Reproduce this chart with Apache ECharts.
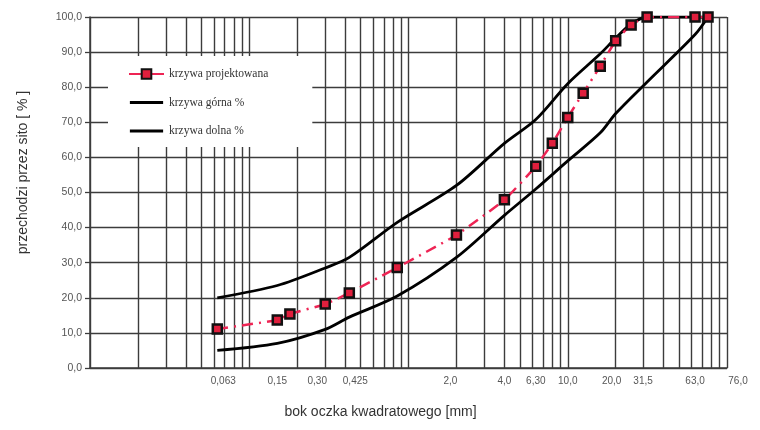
<!DOCTYPE html>
<html>
<head>
<meta charset="utf-8">
<script src="https://cdn.jsdelivr.net/npm/echarts@6/dist/echarts.min.js"></script>
<style>
  html, body { margin: 0; padding: 0; background: #fff; }
  #chart { width: 760px; height: 430px; }
</style>
</head>
<body>
<div id="chart"></div>
<script>
// Sieve sizes [mm] and percentage passing for each grading curve
var sieveDesign = [0.063, 0.15, 0.18, 0.3, 0.425, 0.85, 2, 4, 6.3, 8, 10, 12.5, 16, 20, 25, 31.5, 63, 76];
var passDesign  = [11.1, 13.7, 15.4, 18.2, 21.4, 28.6, 37.9, 47.9, 57.5, 64.0, 71.4, 78.3, 86.0, 93.2, 97.7, 100, 100, 100];

var sieveUpper = [0.063, 0.15, 0.3, 0.425, 0.85, 2, 4, 6.3, 10, 16, 20, 25, 31.5, 63, 76];
var passUpper  = [20, 23.5, 28.5, 31.5, 41.5, 52, 64, 70.8, 81, 89.5, 94, 98, 100, 100, 100];

var sieveLower = [0.063, 0.15, 0.3, 0.425, 0.85, 2, 4, 6.3, 10, 16, 20, 31.5, 63, 76];
var passLower  = [5, 7, 11, 14.5, 20.5, 31.5, 43.5, 51, 59, 67, 72.5, 81.5, 95, 100];

// Tick labels printed under the x axis
var xTickValues = [0.063, 0.15, 0.3, 0.425, 2, 4, 6.3, 10, 20, 31.5, 63, 76];
var xTickLabels = ['0,063', '0,15', '0,30', '0,425', '2,0', '4,0', '6,30', '10,0', '20,0', '31,5', '63,0', '76,0'];

// Logarithmic grid: 1..9 in every decade from 0.01 to 100 mm
var decades = [0.01, 0.1, 1, 10];
var gridMultipliers = [1, 2, 3, 4, 5, 6, 7, 8, 9];

var seriesNames = ['krzywa projektowana', 'krzywa górna %', 'krzywa dolna %'];

function pairs(xs, ys) {
  return xs.map(function (x, i) { return [x, ys[i]]; });
}

var gridValues = [];
decades.forEach(function (d) {
  gridMultipliers.forEach(function (m) { gridValues.push(+(d * m).toPrecision(6)); });
});
gridValues.push(100);

// Horizontal nudges (px) for a few crowded tick labels
var labelNudge = { '0,063': 6, '0,30': -8, '0,425': 6, '2,0': -6, '20,0': -4, '31,5': -4, '76,0': 30 };
var labelRich = {};
var labelStyle = { fontFamily: 'Liberation Sans', fontSize: 10, color: '#555' };

function tickLabel(v) {
  var best = 0, bestDist = Infinity;
  xTickValues.forEach(function (t, i) {
    var dist = Math.abs(Math.log(t) - Math.log(v));
    if (dist < bestDist) { bestDist = dist; best = i; }
  });
  var txt = xTickLabels[best];
  var n = labelNudge[txt];
  if (!n) return txt;
  return '{n' + best + '|' + txt + '}';
}
xTickLabels.forEach(function (txt, i) {
  var n = labelNudge[txt];
  if (!n) return;
  labelRich['n' + i] = Object.assign({}, labelStyle, {
    padding: n > 0 ? [0, 0, 0, 2 * n] : [0, -2 * n, 0, 0]
  });
});

var lineIcon = 'path://M0,0M0,5H36V8H0ZM36,13';

var chart = echarts.init(document.getElementById('chart'));
var gridColor = '#3c3c3c';

chart.setOption({
  backgroundColor: '#ffffff',
  animation: false,
  grid: { left: 90, right: 33, top: 17, bottom: 62 },
  legend: {
    orient: 'vertical',
    left: 108,
    top: 56,
    backgroundColor: '#ffffff',
    padding: [12, 44, 10, 20],
    itemGap: 16.5,
    itemWidth: 35,
    itemHeight: 12,
    data: [
      { name: seriesNames[0] },
      { name: seriesNames[1], icon: lineIcon },
      { name: seriesNames[2], icon: lineIcon }
    ],
    lineStyle: { type: 'solid' },
    textStyle: { fontFamily: 'Liberation Serif', fontSize: 11.5, color: '#333' }
  },
  xAxis: {
    type: 'log',
    logBase: 10,
    min: 0.01,
    max: 100,
    name: 'bok oczka kwadratowego [mm]',
    nameLocation: 'middle',
    nameGap: 37,
    nameTextStyle: { fontFamily: 'Liberation Sans', fontSize: 14, color: '#333', padding: [0, 56, 0, 0] },
    axisLine: { show: true, lineStyle: { color: gridColor, width: 1.5 } },
    axisTick: { show: false, customValues: gridValues },
    axisLabel: {
      customValues: xTickValues,
      formatter: tickLabel,
      margin: 8,
      fontFamily: 'Liberation Sans',
      fontSize: 10,
      color: '#555',
      rich: labelRich
    },
    splitLine: { show: true, lineStyle: { color: gridColor, width: 1.4 } },
    minorTick: { show: false },
    minorSplitLine: { show: false }
  },
  yAxis: {
    type: 'value',
    min: 0,
    max: 100,
    interval: 10,
    name: 'przechodzi przez sito [ % ]',
    nameLocation: 'middle',
    nameGap: 60,
    nameTextStyle: { fontFamily: 'Liberation Sans', fontSize: 14, color: '#333', padding: [0, 0, 0, 40] },
    axisLine: { show: true, lineStyle: { color: gridColor, width: 1.5 } },
    axisTick: { show: true, length: 5, lineStyle: { color: gridColor, width: 1.3 } },
    axisLabel: {
      margin: 8,
      fontFamily: 'Liberation Sans',
      fontSize: 10.5,
      color: '#555',
      formatter: function (v) { return v.toFixed(1).replace('.', ','); }
    },
    splitLine: { show: true, lineStyle: { color: gridColor, width: 1.4 } }
  },
  series: [
    {
      name: seriesNames[0],
      type: 'line',
      z: 4,
      data: pairs(sieveDesign, passDesign),
      smooth: 0.15,
      symbol: 'rect',
      symbolSize: 9,
      itemStyle: { color: '#e01f3d', borderColor: '#111', borderWidth: 2.5 },
      lineStyle: { color: '#ee2454', width: 2.5, type: [11, 6, 2, 6] }
    },
    {
      name: seriesNames[1],
      type: 'line',
      z: 3,
      data: pairs(sieveUpper, passUpper),
      smooth: 0.3,
      symbol: 'none',
      itemStyle: { color: '#000' },
      lineStyle: { color: '#000', width: 2.8 }
    },
    {
      name: seriesNames[2],
      type: 'line',
      z: 3,
      data: pairs(sieveLower, passLower),
      smooth: 0.3,
      symbol: 'none',
      itemStyle: { color: '#000' },
      lineStyle: { color: '#000', width: 2.8 }
    }
  ]
});
</script>
</body>
</html>
